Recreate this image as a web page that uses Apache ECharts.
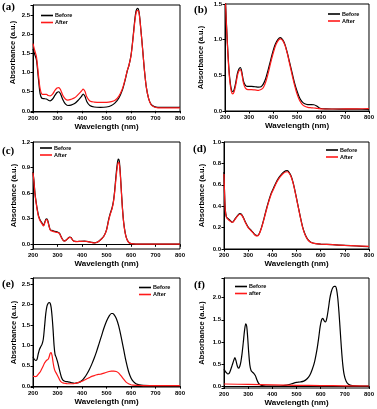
<!DOCTYPE html>
<html>
<head>
<meta charset="utf-8">
<script src="https://cdn.jsdelivr.net/npm/echarts@6/dist/echarts.min.js"></script>
<style>
  html, body { margin: 0; padding: 0; background: #fff; }
  #chart { width: 377px; height: 409px; }
</style>
</head>
<body>
<div id="chart"></div>
<script>
// x ticks (nm)
const xTicks = [200, 300, 400, 500, 600, 700, 800]

// (a)
const wlA = [200,207,214,222,229,236,245,255,262,270,280,290,298,305,312,322,332,342,355,370,385,398,405,412,420,432,450,475,500,520,535,550,565,575,585,592,600,608,615,621,627,633,640,647,655,663,672,682,695,710,740,800]
const beforeA = [1.62,1.48,1.34,0.85,0.45,0.33,0.32,0.31,0.28,0.26,0.31,0.41,0.48,0.50,0.45,0.29,0.18,0.14,0.15,0.19,0.28,0.38,0.44,0.38,0.24,0.14,0.10,0.09,0.10,0.14,0.21,0.33,0.55,0.78,1.05,1.20,1.45,1.90,2.35,2.62,2.68,2.58,2.15,1.65,1.05,0.60,0.32,0.17,0.11,0.09,0.09,0.09]
const afterA = [1.76,1.58,1.42,0.95,0.58,0.44,0.43,0.43,0.40,0.39,0.44,0.54,0.60,0.61,0.56,0.40,0.31,0.28,0.30,0.34,0.43,0.52,0.57,0.51,0.36,0.26,0.23,0.22,0.22,0.24,0.28,0.38,0.58,0.80,1.06,1.20,1.44,1.87,2.30,2.57,2.63,2.55,2.13,1.64,1.05,0.60,0.32,0.16,0.10,0.08,0.08,0.08]

// (b)
const wlB = [200,205,210,215,220,226,232,238,245,252,258,264,270,277,285,295,310,325,340,350,360,370,380,390,400,410,420,430,440,450,460,470,480,490,500,510,520,530,545,560,570,580,590,600,620,650,700,750,800]
const beforeB = [1.7,1.3,0.95,0.66,0.45,0.31,0.27,0.30,0.40,0.53,0.59,0.61,0.55,0.42,0.36,0.345,0.345,0.34,0.335,0.34,0.38,0.46,0.58,0.71,0.84,0.94,1.0,1.03,1.0,0.93,0.81,0.67,0.53,0.39,0.28,0.19,0.135,0.105,0.09,0.09,0.088,0.075,0.05,0.035,0.03,0.028,0.026,0.025,0.024]
const afterB = [1.7,1.28,0.93,0.63,0.42,0.28,0.24,0.27,0.37,0.50,0.56,0.58,0.52,0.39,0.32,0.30,0.30,0.295,0.29,0.30,0.33,0.41,0.53,0.67,0.80,0.91,0.98,1.01,0.99,0.92,0.80,0.65,0.50,0.36,0.24,0.155,0.10,0.07,0.05,0.045,0.042,0.038,0.034,0.03,0.028,0.028,0.029,0.031,0.033]

// (c)
const wlC = [200,204,208,213,218,223,230,237,243,248,253,257,262,267,272,278,285,292,300,308,313,318,324,330,337,344,350,355,362,370,380,395,410,425,440,450,460,470,480,490,500,508,515,522,528,533,538,543,548,552,556,560,565,570,576,582,590,600,620,700,800]
const beforeC = [0.85,0.74,0.60,0.49,0.40,0.33,0.28,0.25,0.22,0.26,0.295,0.30,0.26,0.20,0.165,0.165,0.155,0.15,0.145,0.13,0.10,0.07,0.045,0.04,0.055,0.075,0.085,0.08,0.05,0.035,0.033,0.036,0.037,0.032,0.022,0.018,0.022,0.04,0.065,0.10,0.17,0.28,0.36,0.42,0.50,0.62,0.78,0.92,1.0,0.98,0.85,0.66,0.43,0.26,0.14,0.07,0.025,0.008,0.003,0.002,0.002]
const afterC = [0.84,0.73,0.59,0.48,0.39,0.32,0.27,0.24,0.215,0.25,0.285,0.29,0.25,0.195,0.16,0.155,0.148,0.142,0.138,0.125,0.097,0.068,0.043,0.038,0.053,0.072,0.082,0.078,0.048,0.034,0.032,0.035,0.036,0.031,0.021,0.017,0.021,0.038,0.063,0.098,0.165,0.27,0.35,0.41,0.49,0.60,0.75,0.88,0.96,0.95,0.83,0.65,0.42,0.255,0.135,0.068,0.024,0.008,0.003,0.002,0.002]

// (d)
const wlD = [200,202,205,210,218,226,235,245,255,265,272,280,290,300,310,320,330,337,345,355,365,375,385,395,405,415,425,435,445,455,462,470,478,486,495,505,515,525,535,545,555,565,580,600,650,700,750,800]
const beforeD = [0.72,0.55,0.38,0.30,0.28,0.265,0.25,0.28,0.31,0.33,0.325,0.295,0.245,0.205,0.18,0.155,0.13,0.125,0.14,0.20,0.28,0.37,0.45,0.52,0.57,0.62,0.66,0.69,0.715,0.73,0.732,0.715,0.68,0.62,0.53,0.42,0.31,0.21,0.14,0.095,0.07,0.058,0.05,0.046,0.04,0.034,0.028,0.022]
const afterD = [0.70,0.54,0.37,0.295,0.275,0.26,0.248,0.275,0.305,0.325,0.32,0.29,0.24,0.20,0.175,0.15,0.127,0.122,0.137,0.195,0.275,0.36,0.44,0.51,0.56,0.61,0.65,0.68,0.705,0.72,0.722,0.706,0.672,0.615,0.525,0.415,0.305,0.205,0.135,0.092,0.068,0.057,0.05,0.046,0.04,0.034,0.029,0.024]

// (e)
const wlE = [200,205,211,216,221,227,232,237,242,247,252,257,262,266,270,274,278,282,286,290,295,300,305,310,316,322,330,340,350,360,370,380,390,400,410,420,430,440,450,460,470,480,490,500,510,520,525,530,540,550,560,570,580,590,600,610,620,635,650,680,720,800]
const beforeE = [0.72,0.66,0.63,0.65,0.78,0.91,0.97,1.03,1.15,1.45,1.77,1.96,2.03,2.05,2.03,1.93,1.70,1.38,1.00,0.78,0.70,0.60,0.48,0.35,0.22,0.15,0.12,0.11,0.10,0.08,0.07,0.08,0.10,0.14,0.21,0.30,0.41,0.54,0.69,0.86,1.05,1.24,1.43,1.59,1.71,1.78,1.78,1.76,1.66,1.47,1.20,0.90,0.60,0.36,0.20,0.11,0.06,0.03,0.02,0.015,0.012,0.01]
const afterE = [0.24,0.24,0.235,0.25,0.29,0.33,0.38,0.44,0.50,0.57,0.61,0.64,0.66,0.72,0.80,0.82,0.74,0.58,0.45,0.37,0.32,0.26,0.20,0.14,0.10,0.08,0.07,0.06,0.06,0.06,0.065,0.08,0.10,0.12,0.15,0.18,0.21,0.24,0.26,0.28,0.29,0.30,0.32,0.34,0.36,0.37,0.37,0.37,0.36,0.32,0.25,0.17,0.10,0.06,0.035,0.025,0.02,0.018,0.016,0.015,0.015,0.015]

// (f)
const wlF = [200,205,210,216,222,228,234,240,245,250,255,260,265,270,275,280,285,290,294,298,302,307,312,318,324,330,336,342,348,355,365,380,400,420,440,460,480,500,515,530,545,555,565,575,585,592,598,604,609,614,620,626,632,638,644,650,656,661,666,671,676,681,686,691,697,705,715,730,760,800]
const beforeF = [0.39,0.34,0.31,0.28,0.30,0.38,0.48,0.58,0.65,0.57,0.46,0.41,0.45,0.56,0.75,1.0,1.26,1.41,1.35,1.10,0.78,0.48,0.36,0.32,0.29,0.24,0.15,0.08,0.045,0.025,0.015,0.01,0.01,0.01,0.015,0.03,0.06,0.09,0.10,0.12,0.18,0.25,0.38,0.56,0.84,1.10,1.35,1.50,1.53,1.48,1.45,1.55,1.75,1.98,2.13,2.22,2.25,2.25,2.18,1.98,1.65,1.25,0.85,0.52,0.27,0.12,0.05,0.02,0.01,0.01]
const wlFAfter = [200, 300, 400, 500, 600, 700, 800]
const afterF = [0.055, 0.045, 0.035, 0.025, 0.02, 0.015, 0.01]

const FONT = '"Liberation Sans", Arial, sans-serif'
const BLACK = '#000000'
const RED = '#ff1a1a'

// panel layout: grid box, y range, y step, name gap, legend spot
const panels = [
  { tag: '(a)', grid: [33, 5, 147, 107], y: [-0.03, 2.77], step: 0.5, gap: 16, namePad: 12, lab: [2, 2], leg: [41, 12], names: ['Before', 'After'] },
  { tag: '(b)', grid: [225, 4, 145, 107], y: [0, 1.5], step: 0.5, gap: 20, namePad: 0, lab: [194, 5], leg: [328, 10.5], names: ['Before', 'After'] },
  { tag: '(c)', grid: [33, 142, 147, 107], y: [-0.055, 1.2], step: 0.3, gap: 15, namePad: 0, lab: [2, 146], leg: [40, 144.5], names: ['Before', 'After'] },
  { tag: '(d)', grid: [224, 142, 146, 107], y: [0, 1.0], step: 0.2, gap: 18, namePad: 0, lab: [193, 144], leg: [326, 146.5], names: ['Before', 'After'] },
  { tag: '(e)', grid: [33, 278, 147, 109], y: [-0.02, 2.65], step: 0.5, gap: 15, namePad: 0, lab: [2, 279], leg: [139, 284], names: ['Before', 'After'] },
  { tag: '(f)', grid: [224, 278, 146, 110], y: [-0.035, 2.44], step: 0.5, gap: 18, namePad: 0, lab: [194, 280], leg: [235, 283], names: ['Before', 'after'] }
]

const seriesData = [
  [[wlA, beforeA], [wlA, afterA]],
  [[wlB, beforeB], [wlB, afterB]],
  [[wlC, beforeC], [wlC, afterC]],
  [[wlD, beforeD], [wlD, afterD]],
  [[wlE, beforeE], [wlE, afterE]],
  [[wlF, beforeF], [wlFAfter, afterF]]
]

const pairs = (xs, ys) => xs.map((x, i) => [x, ys[i]])

const chart = echarts.init(document.getElementById('chart'), null, { renderer: 'canvas' })

const option = {
  animation: false,
  backgroundColor: '#fff',
  title: panels.map(p => ({
    text: p.tag,
    left: p.lab[0],
    top: p.lab[1],
    padding: 0,
    textStyle: { fontFamily: '"Liberation Serif", "Times New Roman", serif', fontWeight: 'bold', fontSize: 11, color: '#000' }
  })),
  legend: panels.map(p => ({
    data: p.names,
    left: p.leg[0],
    top: p.leg[1],
    orient: 'vertical',
    padding: 0,
    itemGap: 0,
    itemWidth: 12,
    itemHeight: 1.6,
    icon: 'rect',
    selectedMode: false,
    textStyle: { fontFamily: FONT, fontWeight: 'bold', fontSize: 5.5, lineHeight: 7, color: '#000', padding: [0, 0, 0, -3] }
  })),
  grid: panels.map(p => ({
    left: p.grid[0], top: p.grid[1], width: p.grid[2], height: p.grid[3],
    show: true, borderColor: '#000', borderWidth: 1, containLabel: false
  })),
  xAxis: panels.map((p, i) => ({
    type: 'value', gridIndex: i, min: xTicks[0], max: xTicks[xTicks.length - 1], interval: 100,
    name: 'Wavelength (nm)', nameLocation: 'middle', nameGap: 11,
    nameTextStyle: { fontFamily: FONT, fontWeight: 'bold', fontSize: 8, color: '#000' },
    axisLine: { show: true, lineStyle: { color: '#000', width: 1 } },
    axisTick: { show: true, inside: false, length: 2.5, lineStyle: { color: '#000' } },
    axisLabel: { fontFamily: FONT, fontWeight: 'bold', fontSize: 6, color: '#000', margin: 3 },
    splitLine: { show: false }
  })),
  yAxis: panels.map((p, i) => ({
    type: 'value', gridIndex: i, min: p.y[0], max: p.y[1],
    minInterval: p.step, maxInterval: p.step,
    name: 'Absorbance (a.u.)', nameLocation: 'middle', nameGap: p.gap,
    nameTextStyle: { fontFamily: FONT, fontWeight: 'bold', fontSize: 7.5, color: '#000', padding: [0, 0, 0, p.namePad] },
    axisLine: { show: true, onZero: false, lineStyle: { color: '#000', width: 1 } },
    axisTick: { show: true, inside: false, length: 2.5, lineStyle: { color: '#000' } },
    axisLabel: {
      fontFamily: FONT, fontWeight: 'bold', fontSize: 6, color: '#000', margin: 3,
      formatter: v => {
        const k = v / p.step
        return Math.abs(k - Math.round(k)) < 1e-6 ? v.toFixed(1) : ''
      }
    },
    splitLine: { show: false }
  })),
  series: []
}

panels.forEach((p, i) => {
  const [bef, aft] = seriesData[i]
  option.series.push({
    name: p.names[0], type: 'line', xAxisIndex: i, yAxisIndex: i,
    data: pairs(bef[0], bef[1]), showSymbol: false, smooth: 0.3,
    lineStyle: { color: BLACK, width: 1.2 }, itemStyle: { color: BLACK }, z: 2
  })
  option.series.push({
    name: p.names[1], type: 'line', xAxisIndex: i, yAxisIndex: i,
    data: pairs(aft[0], aft[1]), showSymbol: false, smooth: 0.3,
    lineStyle: { color: RED, width: 1.2 }, itemStyle: { color: RED }, z: 3
  })
})

chart.setOption(option)
</script>
</body>
</html>
